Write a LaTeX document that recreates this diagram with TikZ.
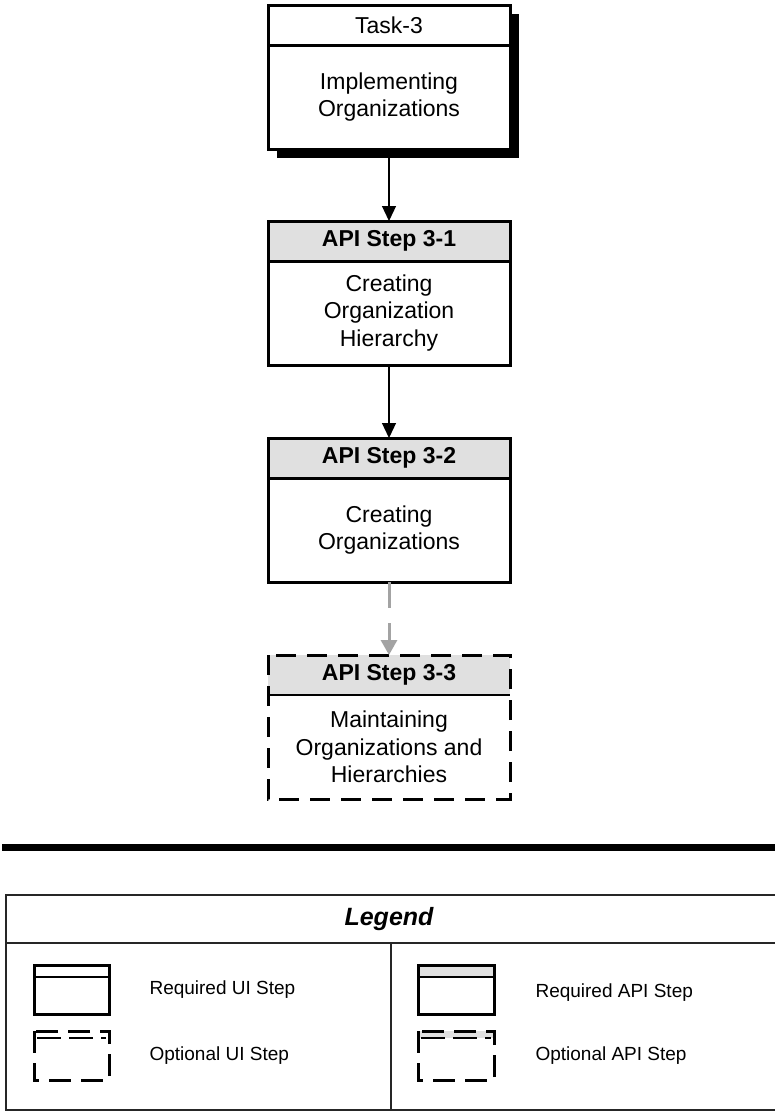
\documentclass[tikz,border=0pt]{standalone}
\usepackage{fontspec}
\setmainfont{Liberation Sans}
\usetikzlibrary{arrows.meta,backgrounds}
\definecolor{hdrgray}{HTML}{E0E0E0}
\definecolor{arrgray}{HTML}{A3A3A3}
\begin{document}
\begin{tikzpicture}[x=1pt,y=-1pt,
  boxline/.style={line width=3pt},
  hdr/.style={draw, boxline, minimum width=242pt, minimum height=40pt,
    inner sep=0pt, outer sep=0pt, anchor=north,
    font=\fontsize{23}{27}\selectfont\bfseries},
  bodybox/.style={draw, boxline, fill=white, minimum width=242pt, minimum height=104pt,
    inner sep=0pt, outer sep=0pt, anchor=north, align=center,
    font=\fontsize{23}{27.5}\selectfont},
  flow/.style={line width=1.2pt, -{Triangle[width=14pt,length=15pt]}},
  optflow/.style={line width=3pt, draw=arrgray, dash pattern=on 26pt off 15pt,
    -{Triangle[width=16pt,length=15pt,fill=arrgray]}},
  legtext/.style={anchor=west, font=\fontsize{19}{22}\selectfont},
  legline/.style={line width=1.5pt, draw=black!85},
  iconline/.style={line width=3pt},
  icondash/.style={line width=3pt, dash pattern=on 22pt off 10pt},
]
\useasboundingbox (0,0) rectangle (775,1111);

% ---- Task-3 (required UI step with drop shadow) ----
\node[hdr, fill=white, font=\fontsize{23}{27}\selectfont] (t3h) at (389,5) {Task-3};
\node[bodybox] (t3b) at (t3h.south) {Implementing\\Organizations};
\begin{scope}[on background layer]
  \fill ([shift={(9pt,-9pt)}]t3h.north west) rectangle ([shift={(9pt,-9pt)}]t3b.south east);
\end{scope}

% ---- API Step 3-1 ----
\node[hdr, fill=hdrgray] (s1h) at (389,221) {API Step 3-1};
\node[bodybox] (s1b) at (s1h.south) {Creating\\Organization\\Hierarchy};

% ---- API Step 3-2 ----
\node[hdr, fill=hdrgray] (s2h) at (389,438) {API Step 3-2};
\node[bodybox] (s2b) at (s2h.south) {Creating\\Organizations};

% ---- API Step 3-3 (optional, dashed outline) ----
\node[hdr, draw=none, fill=hdrgray] (s3h) at (389,655) {API Step 3-3};
\node[bodybox, draw=none] (s3b) at (s3h.south) {Maintaining\\Organizations and\\Hierarchies};
\draw[boxline, dash pattern=on 20pt off 11pt] (s3h.north west) rectangle (s3b.south east);
\draw[line width=2.5pt] (s3h.south west) -- (s3h.south east);

% ---- connectors ----
\draw[flow] (t3b.south) -- (s1h.north);
\draw[flow] (s1b.south) -- (s2h.north);
\draw[optflow] (s2b.south) -- (s3h.north);

% ---- separator ----
\coordinate (sepL) at (2,847);
\coordinate (sepR) at (775,847);
\draw[line width=7pt] (sepL) -- (sepR);

% ---- legend ----
\draw[legline] (6,895) rectangle (780,1110);
\draw[legline] (6,943) -- (780,943);
\draw[legline] (391,943) -- (391,1110);
\node[font=\fontsize{25}{28}\selectfont\bfseries\itshape] (legtitle) at (389,919) {Legend};

% required UI icon
\draw[iconline] (34,965) rectangle (109,1014);
\draw[line width=2.5pt] (34,977) -- (109,977);
\node[legtext] (requi) at (146,990) {Required UI Step};

% optional UI icon
\draw[icondash] (34,1031) rectangle (109,1080);
\draw[line width=2.5pt, dash pattern=on 24pt off 8pt] (37,1038) -- (106,1038);
\node[legtext] (optui) at (146,1056) {Optional UI Step};

% required API icon
\fill[hdrgray] (418,965) rectangle (494,977);
\draw[iconline] (418,965) rectangle (494,1014);
\draw[line width=2.5pt] (418,977) -- (494,977);
\node[legtext] (reqapi) at (532,993) {Required API Step};

% optional API icon
\fill[hdrgray] (418,1031) rectangle (494,1038);
\draw[icondash] (418,1031) rectangle (494,1080);
\draw[line width=2.5pt, dash pattern=on 24pt off 8pt] (421,1038) -- (491,1038);
\node[legtext] (optapi) at (532,1056) {Optional API Step};
\end{tikzpicture}
\end{document}
